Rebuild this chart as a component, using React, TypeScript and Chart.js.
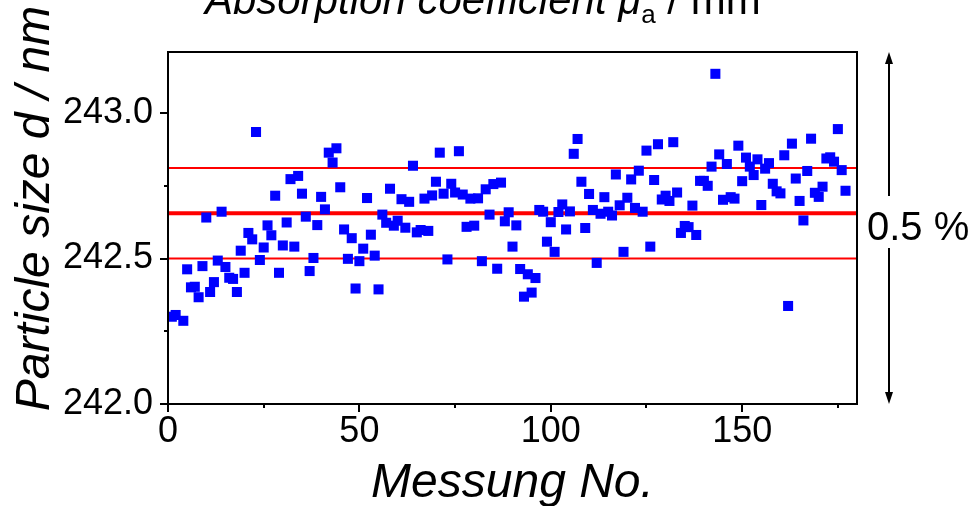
import { useEffect, useRef } from "react";
import { Chart, registerables } from "chart.js";

Chart.register(...registerables);

const FF = "'Liberation Sans', Arial, Helvetica, sans-serif";

const measurementNo = [
  1, 2, 4, 5, 6, 7, 8, 9, 10, 11, 12, 13, 14, 15, 16, 17, 18, 19, 20,
  21, 22, 23, 24, 25, 26, 27, 28, 29, 30, 31, 32, 33, 34, 35, 36, 37, 38, 39, 40,
  41, 42, 43, 44, 45, 46, 47, 48, 49, 50, 51, 52, 53, 54, 55, 56, 57, 58, 59, 60,
  61, 62, 63, 64, 65, 66, 67, 68, 69, 70, 71, 72, 73, 74, 75, 76, 77, 78, 79, 80,
  81, 82, 83, 84, 85, 86, 87, 88, 89, 90, 91, 92, 93, 94, 95, 96, 97, 98, 99, 100,
  101, 102, 103, 104, 105, 106, 107, 108, 109, 110, 111, 112, 113, 114, 115, 116, 117, 118, 119, 120,
  121, 122, 123, 124, 125, 126, 127, 128, 129, 130, 131, 132, 133, 134, 135, 136, 137, 138, 139, 140,
  141, 142, 143, 144, 145, 146, 147, 148, 149, 150, 151, 152, 153, 154, 155, 156, 157, 158, 159, 160,
  161, 162, 163, 164, 165, 166, 167, 168, 169, 170, 171, 172, 173, 174, 175, 176, 177,
];

const particleSize = [
  242.300, 242.306, 242.286, 242.463, 242.401, 242.403, 242.367, 242.474, 242.641, 242.385,
  242.419, 242.493, 242.661, 242.471, 242.434, 242.430, 242.385, 242.527, 242.451,
  242.588, 242.566, 242.935, 242.495, 242.538, 242.614, 242.580, 242.716, 242.451, 242.545,
  242.624, 242.773, 242.541, 242.784, 242.723, 242.644, 242.457, 242.502, 242.615, 242.712,
  242.669, 242.864, 242.830, 242.879, 242.745, 242.600, 242.499, 242.570, 242.397, 242.491,
  242.534, 242.708, 242.582, 242.510, 242.394, 242.651, 242.623, 242.740, 242.613, 242.630,
  242.704, 242.606, 242.695, 242.819, 242.590, 242.598, 242.706, 242.595, 242.717, 242.764,
  242.864, 242.723, 242.497, 242.757, 242.727, 242.869, 242.720, 242.609, 242.706, 242.613,
  242.707, 242.491, 242.738, 242.651, 242.756, 242.465, 242.761, 242.628, 242.659, 242.541,
  242.614, 242.464, 242.369, 242.446, 242.383, 242.433, 242.667, 242.661, 242.558, 242.625,
  242.523, 242.660, 242.686, 242.600, 242.662, 242.860, 242.911, 242.764, 242.605, 242.722,
  242.667, 242.485, 242.654, 242.711, 242.661, 242.648, 242.789, 242.683, 242.523, 242.709,
  242.772, 242.674, 242.802, 242.661, 242.871, 242.541, 242.770, 242.893, 242.703, 242.716,
  242.698, 242.900, 242.727, 242.588, 242.612, 242.608, 242.682, 242.581, 242.767, 242.767,
  242.750, 242.816, 243.135, 242.858, 242.702, 242.825, 242.711, 242.706, 242.888, 242.766,
  242.847, 242.816, 242.787, 242.841, 242.684, 242.809, 242.828, 242.757, 242.731, 242.724,
  242.855, 242.337, 242.895, 242.775, 242.698, 242.631, 242.801, 242.912, 242.726, 242.712,
  242.747, 242.844, 242.848, 242.833, 242.945, 242.804, 242.733,
];

const upperLimit = 242.811;
const meanLevel = 242.656;
const lowerLimit = 242.5;

const xRange = [0, 180];
const yRange = [242.0, 243.21];
const xMajorTicks = [0, 50, 100, 150];
const xMinorTicks = [25, 75, 125, 175];
const yMajorTicks = [242.0, 242.5, 243.0];
const yMinorTicks = [242.25, 242.75];

const chartTitle = ["Absorption coefficient ", "\u03bc", "a", " / mm"];
const xTitle = "Messung No.";
const yTitle = "Particle size d / nm";
const spanLabel = "0.5 %";

const decorPlugin = {
  id: "decor",
  afterDraw(chart: any) {
    const { ctx, chartArea, scales } = chart;
    const xs = scales.x;
    const ys = scales.y;
    ctx.save();
    // frame
    ctx.strokeStyle = "#000";
    ctx.lineWidth = 2;
    ctx.strokeRect(chartArea.left, chartArea.top, chartArea.right - chartArea.left, chartArea.bottom - chartArea.top);
    // ticks
    ctx.lineWidth = 2;
    ctx.beginPath();
    xMajorTicks.forEach((v) => {
      const p = Math.round(xs.getPixelForValue(v));
      ctx.moveTo(p, chartArea.bottom);
      ctx.lineTo(p, chartArea.bottom + 8);
    });
    xMinorTicks.forEach((v) => {
      const p = Math.round(xs.getPixelForValue(v));
      ctx.moveTo(p, chartArea.bottom);
      ctx.lineTo(p, chartArea.bottom + 4);
    });
    yMajorTicks.forEach((v) => {
      const p = Math.round(ys.getPixelForValue(v));
      ctx.moveTo(chartArea.left, p);
      ctx.lineTo(chartArea.left - 8, p);
    });
    yMinorTicks.forEach((v) => {
      const p = Math.round(ys.getPixelForValue(v));
      ctx.moveTo(chartArea.left, p);
      ctx.lineTo(chartArea.left - 4, p);
    });
    ctx.stroke();

    ctx.fillStyle = "#000";
    // top title (partly cut off)
    ctx.textAlign = "left";
    ctx.textBaseline = "alphabetic";
    let tx = 205;
    const base = 14;
    ctx.font = `italic 42px ${FF}`;
    ctx.fillText(chartTitle[0], tx, base);
    tx += ctx.measureText(chartTitle[0]).width;
    ctx.fillText(chartTitle[1], tx, base);
    tx += ctx.measureText(chartTitle[1]).width;
    ctx.font = `26px ${FF}`;
    ctx.fillText(chartTitle[2], tx, base + 9);
    tx += ctx.measureText(chartTitle[2]).width;
    ctx.font = `42px ${FF}`;
    ctx.fillText(chartTitle[3], tx, base);

    // x axis title
    ctx.font = `italic 48px ${FF}`;
    ctx.textAlign = "center";
    ctx.fillText(xTitle, (chartArea.left + chartArea.right) / 2, 497);

    // y axis title
    ctx.save();
    ctx.translate(49, 208.5);
    ctx.rotate(-Math.PI / 2);
    ctx.fillText(yTitle, 0, 0);
    ctx.restore();

    // span label with arrows
    const ax = 889;
    ctx.font = `40px ${FF}`;
    ctx.textAlign = "left";
    ctx.textBaseline = "middle";
    ctx.fillText(spanLabel, 867, 229);
    ctx.lineWidth = 2;
    ctx.beginPath();
    ctx.moveTo(ax, chartArea.top + 10);
    ctx.lineTo(ax, 196);
    ctx.moveTo(ax, 248);
    ctx.lineTo(ax, chartArea.bottom - 10);
    ctx.stroke();
    ctx.beginPath();
    ctx.moveTo(ax, chartArea.top);
    ctx.lineTo(ax - 4, chartArea.top + 12);
    ctx.lineTo(ax + 4, chartArea.top + 12);
    ctx.closePath();
    ctx.moveTo(ax, chartArea.bottom);
    ctx.lineTo(ax - 4, chartArea.bottom - 12);
    ctx.lineTo(ax + 4, chartArea.bottom - 12);
    ctx.closePath();
    ctx.fill();
    ctx.restore();
  },
};

export default function App() {
  const ref = useRef<HTMLCanvasElement | null>(null);

  useEffect(() => {
    if (!ref.current) return;
    const points = measurementNo.map((n, i) => ({ x: n, y: particleSize[i] }));
    const hline = (v: number) => [
      { x: xRange[0], y: v },
      { x: xRange[1], y: v },
    ];
    const chart = new Chart(ref.current, {
      type: "scatter",
      data: {
        datasets: [
          {
            type: "scatter",
            data: points,
            backgroundColor: "#0000ff",
            borderWidth: 0,
            pointStyle: "rect",
            pointRadius: 7.1,
            pointHoverRadius: 7.1,
            order: 0,
          } as any,
          {
            type: "line",
            data: hline(upperLimit),
            borderColor: "#ff0000",
            borderWidth: 2,
            pointRadius: 0,
            order: 2,
          },
          {
            type: "line",
            data: hline(meanLevel),
            borderColor: "#ff0000",
            borderWidth: 4,
            pointRadius: 0,
            order: 2,
          },
          {
            type: "line",
            data: hline(lowerLimit),
            borderColor: "#ff0000",
            borderWidth: 2,
            pointRadius: 0,
            order: 2,
          },
        ],
      },
      options: {
        animation: false,
        responsive: false,
        events: [],
        layout: { padding: { top: 52, right: 115, left: 0, bottom: 0 } },
        plugins: { legend: { display: false }, tooltip: { enabled: false }, title: { display: false } },
        scales: {
          x: {
            type: "linear",
            min: xRange[0],
            max: xRange[1],
            grid: { display: false, drawTicks: false },
            border: { display: false },
            afterBuildTicks: (s: any) => {
              s.ticks = xMajorTicks.map((v) => ({ value: v }));
            },
            afterFit: (s: any) => {
              s.height = 102;
            },
            ticks: {
              color: "#000",
              font: { family: FF, size: 36 },
              padding: 6,
              maxRotation: 0,
              autoSkip: false,
              callback: (v: any) => String(v),
            },
          },
          y: {
            type: "linear",
            min: yRange[0],
            max: yRange[1],
            grid: { display: false, drawTicks: false },
            border: { display: false },
            afterBuildTicks: (s: any) => {
              s.ticks = yMajorTicks.map((v) => ({ value: v }));
            },
            afterFit: (s: any) => {
              s.width = 168;
            },
            ticks: {
              color: "#000",
              font: { family: FF, size: 36 },
              padding: 15,
              autoSkip: false,
              callback: (v: any) => Number(v).toFixed(1),
            },
          },
        },
      },
      plugins: [decorPlugin],
    });
    return () => chart.destroy();
  }, []);

  return (
    <div style={{ position: "fixed", left: 0, top: 0, width: 972, height: 506, background: "#fff" }}>
      <canvas ref={ref} width={972} height={506} style={{ display: "block" }} />
    </div>
  );
}
